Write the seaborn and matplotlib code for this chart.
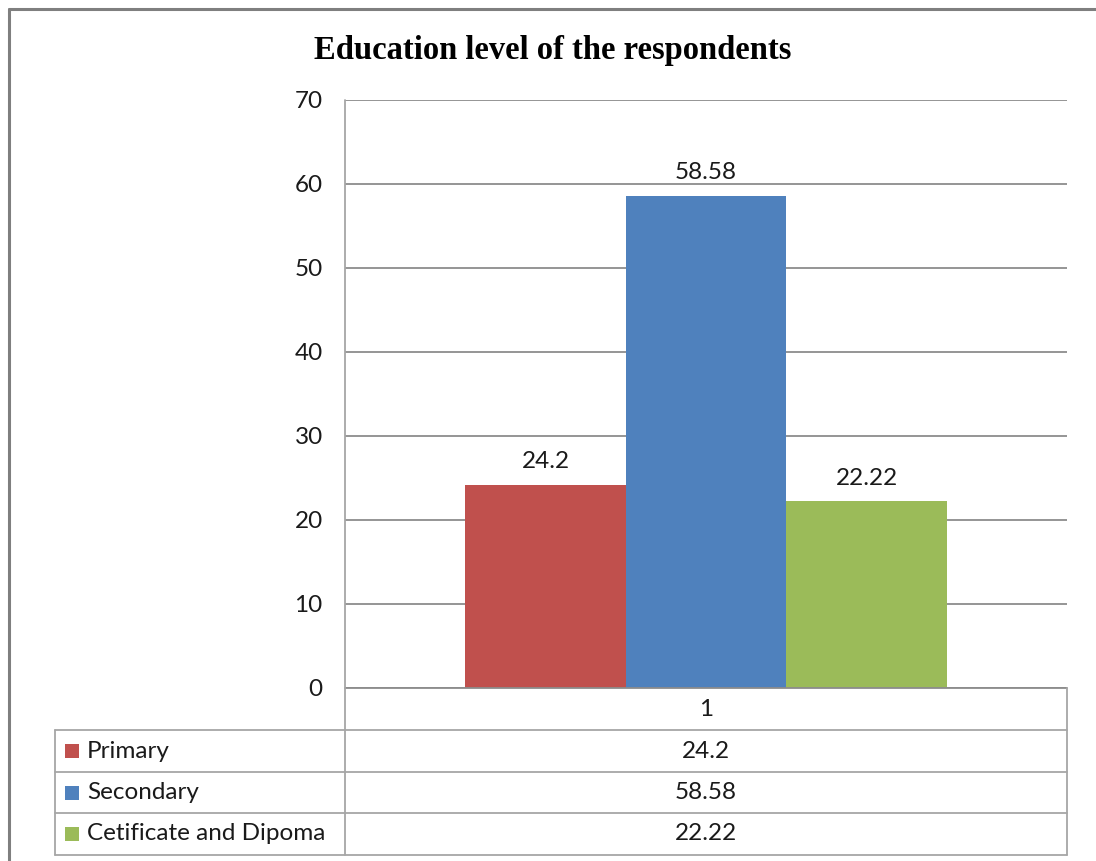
import matplotlib
matplotlib.use("Agg")
import matplotlib.pyplot as plt
from matplotlib.lines import Line2D
from matplotlib.patches import Rectangle
import seaborn as sns
import pandas as pd

# Data
category = ["1"]
series = ["Primary", "Secondary", "Cetificate and Dipoma"]
values = [24.2, 58.58, 22.22]
colors = ["#C0504D", "#4F81BD", "#9BBB59"]
yticks = [0, 10, 20, 30, 40, 50, 60, 70]
title = "Education level of the respondents"

sns.set_theme(style="white")
plt.rcParams["font.family"] = ["Lato", "DejaVu Sans"]

W, H = 1096, 861
fig = plt.figure(figsize=(W / 100, H / 100), dpi=100)


def fx(x):
    return x / W


def fy(y):
    return 1 - y / H


grid_c = "#8C8C8C"
table_c = "#A6A6A6"
text_c = "#1A1A1A"
fs = 17.5

# Plot area
x0, x1, ytop, ybot = 345, 1067, 100, 688
ax = fig.add_axes([fx(x0), fy(ybot), fx(x1 - x0), (ybot - ytop) / H])

df = pd.DataFrame({"cat": category * len(series), "series": series, "value": values})
sns.barplot(data=df, x="cat", y="value", hue="series", palette=colors,
            width=0.667, gap=0, saturation=1, legend=False, ax=ax,
            edgecolor="none", linewidth=0)

ax.set_xlim(-0.5, 0.5)
ax.set_ylim(0, 70)
ax.set_yticks(yticks)
ax.set_yticklabels([str(t) for t in yticks], fontsize=fs, color=text_c)
ax.tick_params(axis="y", length=0, pad=16)
ax.set_xticks([])
ax.set_xlabel("")
ax.set_ylabel("")
ax.yaxis.grid(True, color=grid_c, linewidth=1.3)
ax.set_axisbelow(True)
for s in ["top", "right", "bottom", "left"]:
    ax.spines[s].set_visible(False)

for cont in ax.containers:
    ax.bar_label(cont, labels=[f"{v:g}" for v in cont.datavalues],
                 padding=9, fontsize=fs, color=text_c)

# Title
fig.text(fx(553), fy(50), title, ha="center", va="center",
         fontsize=23.5, fontweight="bold", family="Liberation Serif", color="black")

# Outer chart frame
fig.add_artist(Line2D([fx(9), fx(W + 5)], [fy(9), fy(9)], color="#7F7F7F", lw=2.2))
fig.add_artist(Line2D([fx(9), fx(9)], [fy(9), fy(H + 5)], color="#7F7F7F", lw=2.2))

# Data table below the axis
row_edges = [688, 730, 772, 813, 855]
tx0 = 55
fig.add_artist(Line2D([fx(x0), fx(x1)], [fy(688), fy(688)], color=grid_c, lw=1.3))
for y in row_edges[1:]:
    fig.add_artist(Line2D([fx(tx0), fx(x1)], [fy(y), fy(y)], color=table_c, lw=1.3))
fig.add_artist(Line2D([fx(x0), fx(x0)], [fy(ytop), fy(855)], color=table_c, lw=1.3))
fig.add_artist(Line2D([fx(x1), fx(x1)], [fy(688), fy(855)], color=table_c, lw=1.3))
fig.add_artist(Line2D([fx(tx0), fx(tx0)], [fy(730), fy(855)], color=table_c, lw=1.3))

xc = (x0 + x1) / 2
fig.text(fx(xc), fy((688 + 730) / 2), category[0], ha="center", va="center",
         fontsize=fs, color=text_c)
for i, (name, val, col) in enumerate(zip(series, values, colors)):
    yc = (row_edges[i + 1] + row_edges[i + 2]) / 2
    fig.add_artist(Rectangle((fx(65), fy(yc + 7)), fx(14), 14 / H,
                             facecolor=col, edgecolor="none"))
    fig.text(fx(87), fy(yc), name, ha="left", va="center",
             fontsize=fs, color=text_c)
    fig.text(fx(xc), fy(yc), f"{val:g}", ha="center", va="center",
             fontsize=fs, color=text_c)

fig.savefig("out.png", dpi=100, facecolor="white")
